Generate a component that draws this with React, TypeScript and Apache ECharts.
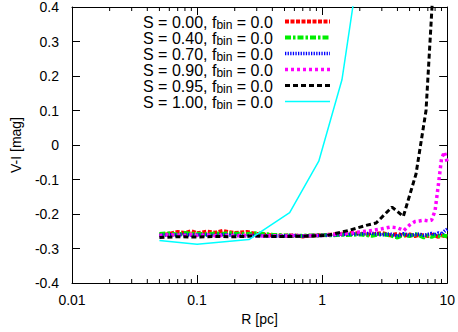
import React, { useEffect, useRef } from "react";
import * as echarts from "echarts";

const FONT = "'Liberation Sans', Arial, Helvetica, sans-serif";

const X_MIN = 0.01;
const X_MAX = 10;
const Y_MIN = -0.4;
const Y_MAX = 0.4;
const Y_STEP = 0.1;

const MINOR_TICKS = [
  0.02, 0.03, 0.04, 0.05, 0.06, 0.07, 0.08, 0.09,
  0.2, 0.3, 0.4, 0.5, 0.6, 0.7, 0.8, 0.9,
  2, 3, 4, 5, 6, 7, 8, 9,
];

const SERIES_NAMES = ["S = 0.00", "S = 0.40", "S = 0.70", "S = 0.90", "S = 0.95", "S = 1.00"];

const R_BINS = [
  0.05, 0.06, 0.07, 0.08, 0.09, 0.1, 0.12, 0.14, 0.16, 0.18, 0.2, 0.25, 0.3, 0.35,
  0.4, 0.5, 0.6, 0.7, 0.8, 0.9, 1.0, 1.2, 1.4, 1.6, 1.8, 2.0, 2.5, 3.0, 3.5, 4.0,
  4.5, 5.0, 5.5, 6.0, 6.5, 7.0, 7.5, 8.0, 8.5, 9.0, 9.5, 10.0,
];

const VI_S000 = [
  -0.262, -0.258, -0.252, -0.255, -0.25, -0.256, -0.251, -0.254, -0.249, -0.253, -0.255,
  -0.252, -0.258, -0.26, -0.262, -0.263, -0.262, -0.265, -0.263, -0.262, -0.261, -0.26,
  -0.258, -0.256, -0.255, -0.257, -0.26, -0.255, -0.262, -0.258, -0.263, -0.259, -0.264,
  -0.26, -0.262, -0.264, -0.26, -0.263, -0.266, -0.262, -0.264, -0.265,
];

const VI_S040 = [
  -0.258, -0.256, -0.26, -0.255, -0.258, -0.257, -0.259, -0.256, -0.258, -0.255, -0.257,
  -0.258, -0.256, -0.258, -0.26, -0.262, -0.264, -0.263, -0.262, -0.262, -0.261, -0.262,
  -0.26, -0.261, -0.26, -0.259, -0.263, -0.258, -0.262, -0.268, -0.26, -0.264, -0.258,
  -0.262, -0.268, -0.262, -0.266, -0.262, -0.264, -0.26, -0.263, -0.265,
];

const VI_S070 = [
  -0.262, -0.26, -0.261, -0.259, -0.262, -0.26, -0.261, -0.262, -0.26, -0.261, -0.262,
  -0.263, -0.262, -0.263, -0.264, -0.263, -0.262, -0.264, -0.263, -0.262, -0.262, -0.261,
  -0.26, -0.259, -0.258, -0.258, -0.256, -0.26, -0.258, -0.264, -0.257, -0.262, -0.26,
  -0.258, -0.262, -0.259, -0.256, -0.26, -0.255, -0.258, -0.25, -0.244,
];

const VI_S090 = [
  -0.262, -0.26, -0.261, -0.262, -0.26, -0.262, -0.261, -0.263, -0.262, -0.262, -0.263,
  -0.262, -0.263, -0.264, -0.263, -0.264, -0.263, -0.264, -0.263, -0.262, -0.262, -0.26,
  -0.258, -0.256, -0.254, -0.252, -0.248, -0.243, -0.238, -0.24, -0.248, -0.232, -0.222,
  -0.22, -0.218, -0.22, -0.218, -0.19, -0.115, -0.04, -0.02, -0.05,
];

const R_S095 = [0.05, 0.07, 0.1, 0.14, 0.2, 0.28, 0.4, 0.56, 0.8, 1.1, 1.66, 2.25, 2.7, 3.62, 4.46, 5.63, 6.77, 7.56, 8.3];
const VI_S095 = [
  -0.268, -0.266, -0.267, -0.265, -0.266, -0.264, -0.265, -0.265, -0.264, -0.262, -0.247,
  -0.233, -0.226, -0.18, -0.207, -0.084, 0.1, 0.4, 0.75,
];

const R_S100 = [0.05, 0.1, 0.26, 0.55, 0.94, 1.44, 2.0];
const VI_S100 = [-0.277, -0.288, -0.274, -0.196, -0.047, 0.189, 0.536];

const COLORS = ["#ff0000", "#00ee00", "#0000ff", "#ff00ff", "#000000", "#00ffff"];
const WIDTHS = [4, 4, 3.5, 3.5, 3, 1.5];
const DASHES: (number[] | null)[] = [[4, 1.5], [6, 2, 2.5, 2], [1.3, 1.3], [3, 3], [5, 3], null];

function pairs(xs: number[], ys: number[]) {
  return xs.map((x, i) => [x, ys[i]]);
}

export default function App() {
  const ref = useRef<HTMLDivElement>(null);

  useEffect(() => {
    if (!ref.current) return;
    const chart = echarts.init(ref.current, undefined, { renderer: "svg" });

    const seriesData = [
      pairs(R_BINS, VI_S000),
      pairs(R_BINS, VI_S040),
      pairs(R_BINS, VI_S070),
      pairs(R_BINS, VI_S090),
      pairs(R_S095, VI_S095),
      pairs(R_S100, VI_S100),
    ];

    const lineSeries = SERIES_NAMES.map((name, i) => ({
      name,
      type: "line",
      xAxisIndex: 0,
      yAxisIndex: 0,
      data: seriesData[i],
      symbol: "none",
      clip: true,
      lineStyle: { color: COLORS[i], width: WIDTHS[i], type: DASHES[i] ?? "solid" },
      itemStyle: { color: COLORS[i] },
    }));

    // legend sample lines (gnuplot style: sample to the right of the text)
    const legendSamples = SERIES_NAMES.map((_, i) => ({
      type: "line",
      silent: true,
      shape: { x1: 285, y1: 21.5 + 16 * i, x2: 330, y2: 21.5 + 16 * i },
      style: {
        stroke: COLORS[i],
        lineWidth: WIDTHS[i],
        lineDash: DASHES[i] ?? undefined,
      },
      z: 10,
    }));

    const axisLineStyle = { onZero: false, lineStyle: { color: "#000", width: 1 } };
    const tickStyle = { show: true, inside: true, length: 8, lineStyle: { color: "#000", width: 1 } };

    chart.setOption({
      animation: false,
      backgroundColor: "#fff",
      grid: { left: 72, right: 10, top: 6, bottom: 49, containLabel: false },
      legend: {
        data: SERIES_NAMES,
        orient: "vertical",
        align: "right",
        left: 143,
        top: 14.5,
        padding: 0,
        itemGap: 0,
        itemWidth: 45,
        itemHeight: 14,
        icon: "rect",
        itemStyle: { opacity: 0 },
        selectedMode: false,
        formatter: (name: string) => `{a|${name}, f}{sub|bin}{a| = 0.0}{gap|}`,
        textStyle: {
          fontFamily: FONT,
          color: "#000",
          rich: {
            a: { fontFamily: FONT, fontSize: 16, lineHeight: 16, color: "#000" },
            sub: { fontFamily: FONT, fontSize: 12, lineHeight: 6, verticalAlign: "bottom", color: "#000" },
            gap: { width: 7 },
          },
        },
      },
      graphic: legendSamples,
      xAxis: [
        {
          type: "log",
          logBase: 10,
          min: X_MIN,
          max: X_MAX,
          position: "bottom",
          name: "R [pc]",
          nameLocation: "middle",
          nameGap: 28,
          nameTextStyle: { fontFamily: FONT, fontSize: 14, color: "#000" },
          axisLine: axisLineStyle,
          axisTick: tickStyle,
          splitLine: { show: false },
          axisLabel: { fontFamily: FONT, fontSize: 14, color: "#000", margin: 10 },
        },
        {
          type: "log",
          logBase: 10,
          min: X_MIN,
          max: X_MAX,
          position: "top",
          axisLine: axisLineStyle,
          axisTick: tickStyle,
          splitLine: { show: false },
          axisLabel: { show: false },
        },
      ],
      yAxis: [
        {
          type: "value",
          min: Y_MIN,
          max: Y_MAX,
          interval: Y_STEP,
          position: "left",
          name: "V-I [mag]",
          nameLocation: "middle",
          nameRotate: 90,
          nameGap: 49,
          nameTextStyle: { fontFamily: FONT, fontSize: 14, color: "#000" },
          axisLine: { show: true, ...axisLineStyle },
          axisTick: tickStyle,
          splitLine: { show: false },
          axisLabel: {
            fontFamily: FONT,
            fontSize: 14,
            color: "#000",
            margin: 13,
            formatter: (v: number) => String(Math.round(v * 10) / 10),
          },
        },
        {
          type: "value",
          min: Y_MIN,
          max: Y_MAX,
          interval: Y_STEP,
          position: "right",
          axisLine: { show: true, ...axisLineStyle },
          axisTick: tickStyle,
          splitLine: { show: false },
          axisLabel: { show: false },
        },
      ],
      series: [
        {
          type: "custom",
          xAxisIndex: 0,
          yAxisIndex: 0,
          clip: false,
          silent: true,
          data: MINOR_TICKS.map((v) => [v, Y_MIN]),
          renderItem: (_params: any, api: any) => {
            const v = api.value(0);
            const b = api.coord([v, Y_MIN]);
            const t = api.coord([v, Y_MAX]);
            return {
              type: "group",
              children: [
                { type: "line", shape: { x1: b[0], y1: b[1], x2: b[0], y2: b[1] - 4 }, style: { stroke: "#000", lineWidth: 1 } },
                { type: "line", shape: { x1: t[0], y1: t[1], x2: t[0], y2: t[1] + 4 }, style: { stroke: "#000", lineWidth: 1 } },
              ],
            };
          },
        },
        ...lineSeries,
      ],
    });

    return () => chart.dispose();
  }, []);

  return (
    <div
      ref={ref}
      style={{ position: "absolute", left: 0, top: 0, width: 458, height: 332, background: "#fff" }}
    />
  );
}
